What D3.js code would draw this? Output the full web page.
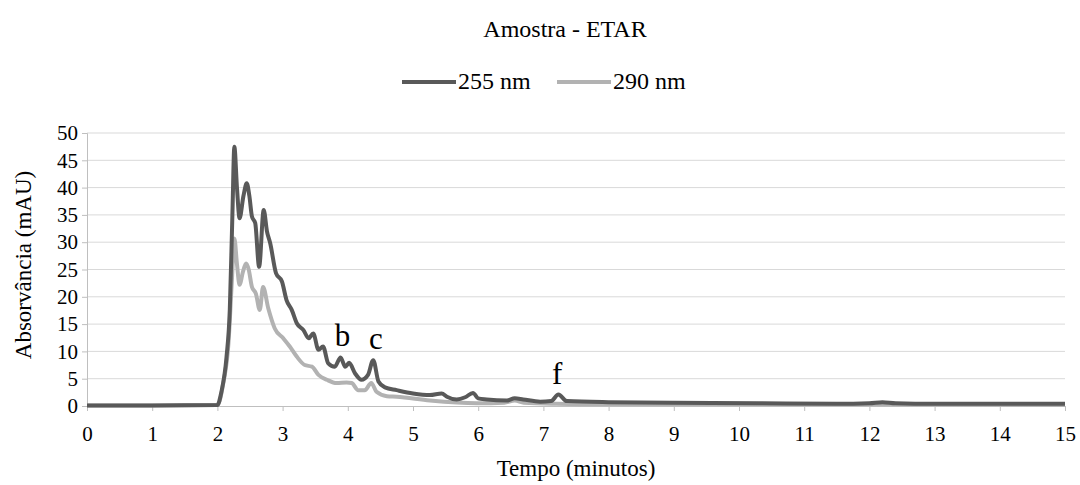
<!DOCTYPE html>
<html>
<head>
<meta charset="utf-8">
<script src="https://cdn.jsdelivr.net/npm/d3@7"></script>
</head>
<body style="margin:0">
<div id="chart"></div>
<script>
// values (time in minutes, absorbance in mAU)
var t255 = [0, 1, 2.0, 2.06, 2.14, 2.19, 2.23, 2.26, 2.3, 2.34, 2.4, 2.45, 2.49, 2.53, 2.58, 2.64, 2.71, 2.76, 2.81, 2.9, 2.99, 3.06, 3.14, 3.22, 3.32, 3.4, 3.47, 3.55, 3.62, 3.7, 3.8, 3.89, 3.96, 4.02, 4.11, 4.21, 4.31, 4.39, 4.47, 4.57, 4.75, 5.0, 5.26, 5.44, 5.52, 5.67, 5.8, 5.92, 6.0, 6.13, 6.44, 6.56, 6.69, 6.95, 7.12, 7.23, 7.36, 8, 9, 10.3, 11.5, 12.0, 12.2, 12.4, 13, 14, 15];
var v255 = [0.1, 0.1, 0.2, 2.5, 9.0, 17.6, 35, 47.5, 40, 34.4, 38.5, 40.8, 38.5, 34.7, 33.5, 25.5, 35.9, 32, 29.8, 24.3, 22.8, 19.4, 17.6, 15.1, 13.9, 12.4, 13.3, 10.3, 10.9, 7.8, 7.2, 8.9, 7.2, 7.9, 6.0, 4.8, 5.7, 8.4, 4.5, 3.4, 2.9, 2.3, 2.0, 2.3, 1.7, 1.2, 1.6, 2.4, 1.4, 1.2, 1.0, 1.4, 1.2, 0.8, 0.9, 2.1, 0.9, 0.7, 0.6, 0.5, 0.4, 0.5, 0.7, 0.5, 0.4, 0.4, 0.4];

var t290 = [0, 1, 2.0, 2.09, 2.17, 2.22, 2.26, 2.3, 2.34, 2.39, 2.44, 2.48, 2.53, 2.59, 2.65, 2.7, 2.78, 2.88, 3.01, 3.11, 3.22, 3.34, 3.45, 3.55, 3.68, 3.83, 3.98, 4.06, 4.16, 4.26, 4.36, 4.44, 4.6, 4.75, 5.26, 5.98, 6.4, 6.56, 6.7, 7.2, 8, 10, 12, 15];
var v290 = [0.1, 0.1, 0.2, 4.2, 11.5, 22.5, 30.7, 26, 22.2, 24.5, 26.1, 25, 21.8, 20.6, 17.6, 21.8, 17.9, 14.2, 12.4, 10.9, 9.0, 7.5, 7.2, 5.7, 4.8, 4.2, 4.3, 4.2, 2.9, 2.9, 4.2, 2.6, 1.8, 1.7, 1.0, 0.5, 0.6, 1.0, 0.6, 0.4, 0.3, 0.3, 0.3, 0.2];

var xTicks = d3.range(0, 16, 1);
var yTicks = d3.range(0, 55, 5);

var peakLabels = ["b", "c", "f"];
var peakTimes = [3.92, 4.43, 7.21];
var peakValues = [8.9, 8.4, 2.1];

var width = 1080,
	height = 485,
	margin = { left: 87, right: 15, top: 133, bottom: 79 };

var FONT = "Times New Roman";

var svg = d3.select("#chart").append("svg")
	.attr("width", width)
	.attr("height", height)
	.style("font-family", FONT);

var x = d3.scaleLinear().domain([0, 15]).range([margin.left, width - margin.right]);
var y = d3.scaleLinear().domain([0, 50]).range([height - margin.bottom, margin.top]);

// gridlines
svg.append("g").selectAll("line")
	.data(yTicks.slice(1))
	.enter()
	.append("line")
	.attr("x1", x(0))
	.attr("x2", x(15))
	.attr("y1", function(d) { return y(d); })
	.attr("y2", function(d) { return y(d); })
	.style("stroke", "#d9d9d9")
	.style("stroke-width", "1px");

var yAxis = svg.append("g")
	.attr("transform", "translate(" + x(0) + ",0)")
	.call(d3.axisLeft(y).tickValues(yTicks).tickSize(5).tickPadding(4));
var xAxis = svg.append("g")
	.attr("transform", "translate(0," + y(0) + ")")
	.call(d3.axisBottom(x).tickValues(xTicks).tickSize(5).tickPadding(15));

[xAxis, yAxis].forEach(function(a) {
	a.attr("font-family", null).attr("font-size", null);
	a.select(".domain").style("stroke", "#bfbfbf");
	a.selectAll(".tick line").style("stroke", "#bfbfbf");
	a.selectAll(".tick text")
		.style("font-size", "21px")
		.style("fill", "#000");
});

var line = d3.line()
	.x(function(d) { return x(d[0]); })
	.y(function(d) { return y(d[1]); })
	.curve(d3.curveMonotoneX);

var series = [
	{ name: "290 nm", t: t290, v: v290, color: "#b2b2b2" },
	{ name: "255 nm", t: t255, v: v255, color: "#595959" }
];

series.forEach(function(s) {
	svg.append("path")
		.attr("d", line(d3.zip(s.t, s.v)))
		.style("fill", "none")
		.style("stroke", s.color)
		.style("stroke-width", "4px")
		.style("stroke-linejoin", "round");
});

// peak letters
svg.append("g").selectAll("text")
	.data(peakLabels)
	.enter()
	.append("text")
	.attr("x", function(d, i) { return x(peakTimes[i]); })
	.attr("y", function(d, i) { return y(peakValues[i]) - 11; })
	.attr("text-anchor", "middle")
	.style("font-size", "31px")
	.text(function(d) { return d; });

// title
svg.append("text")
	.attr("x", 565)
	.attr("y", 37)
	.attr("text-anchor", "middle")
	.style("font-size", "24px")
	.text("Amostra - ETAR");

// legend
var legend = [
	{ name: "255 nm", color: "#595959", x: 402 },
	{ name: "290 nm", color: "#b2b2b2", x: 557 }
];
legend.forEach(function(l) {
	svg.append("line")
		.attr("x1", l.x).attr("x2", l.x + 54)
		.attr("y1", 82).attr("y2", 82)
		.style("stroke", l.color)
		.style("stroke-width", "4px");
	svg.append("text")
		.attr("x", l.x + 56)
		.attr("y", 89)
		.style("font-size", "24px")
		.text(l.name);
});

// axis titles
svg.append("text")
	.attr("x", 576)
	.attr("y", 476)
	.attr("text-anchor", "middle")
	.style("font-size", "23px")
	.text("Tempo (minutos)");

svg.append("text")
	.attr("transform", "translate(31,265) rotate(-90)")
	.attr("text-anchor", "middle")
	.style("font-size", "23px")
	.text("Absorvância (mAU)");
</script>
</body>
</html>
